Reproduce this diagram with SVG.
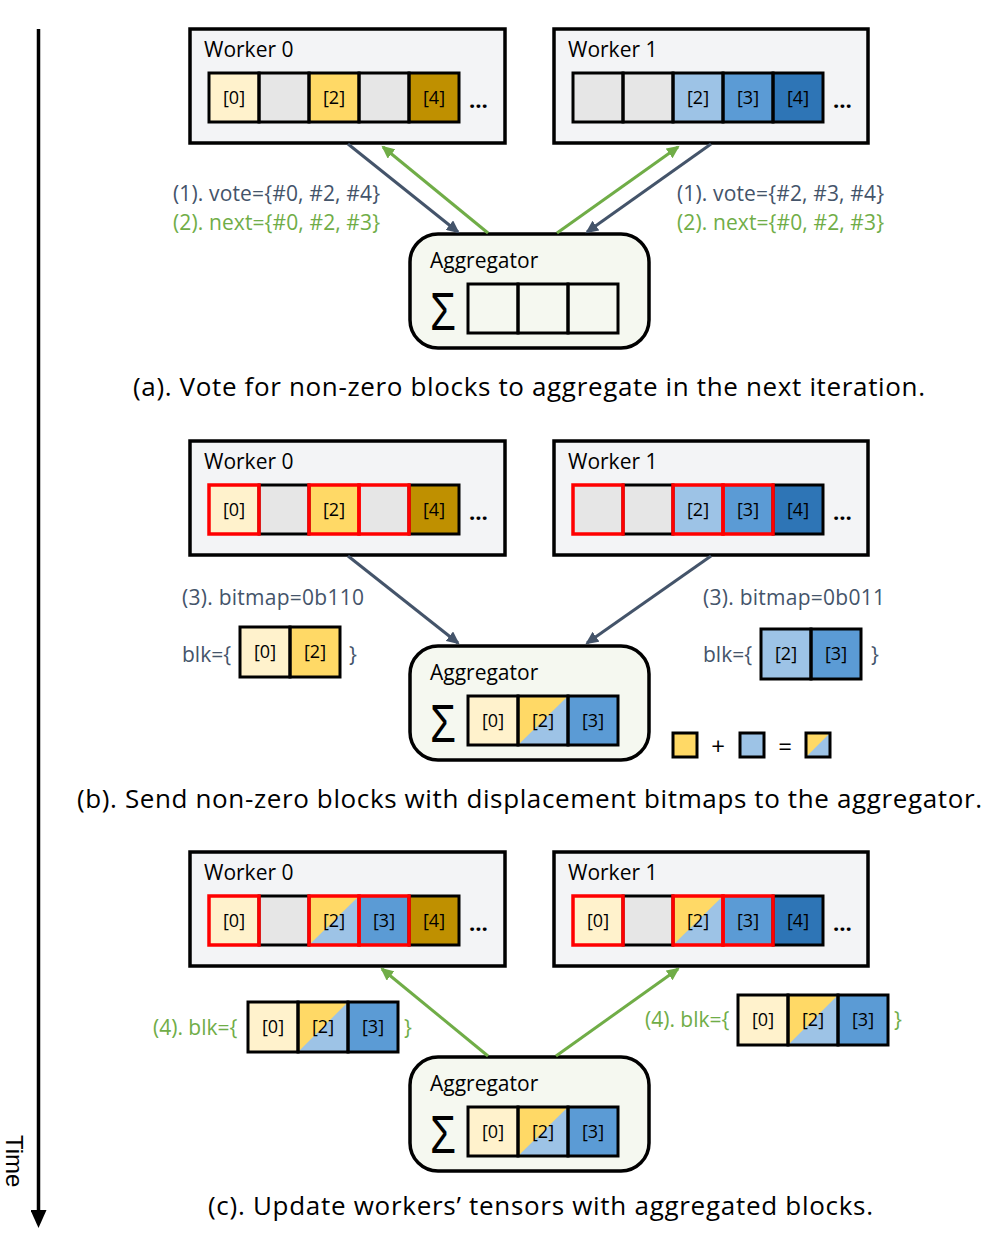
<svg xmlns="http://www.w3.org/2000/svg" width="988" height="1236" viewBox="0 0 988 1236">
<style>
text{font-family:"Open Sans","Noto Sans","Liberation Sans",sans-serif;fill:#000}
.wk{fill:#f3f4f6;stroke:#000;stroke-width:3.5}
.ag{fill:#f5f8f0;stroke:#000;stroke-width:3.5}
.o{fill:none;stroke:#000;stroke-width:3}
.r{fill:none;stroke:#ff0000;stroke-width:3.5}
.cr{fill:#fff2cc}.gy{fill:#e6e6e6}.ye{fill:#ffd966}.go{fill:#bf9000}
.lb{fill:#9dc3e6}.mb{fill:#5b9bd5}.db{fill:#2e75b6}
.ttl{font-size:21px}
.bl{font-size:18px;text-anchor:middle}
.dots{font-size:22px;font-weight:bold}
.sig{font-size:54px;font-family:"Liberation Sans",sans-serif}
.dk{fill:#44546a;font-size:21px}
.gr{fill:#70ad47;font-size:21px}
.cap{font-size:26px}
.ld{stroke:#44546a;stroke-width:3;fill:none}
.lg{stroke:#70ad47;stroke-width:3;fill:none}
</style>
<defs>
<marker id="ad" markerUnits="userSpaceOnUse" markerWidth="14" markerHeight="12" refX="11" refY="6" orient="auto"><path d="M0,0 L13,6 L0,12 z" fill="#44546a"/></marker>
<marker id="ag" markerUnits="userSpaceOnUse" markerWidth="14" markerHeight="12" refX="11" refY="6" orient="auto"><path d="M0,0 L13,6 L0,12 z" fill="#70ad47"/></marker>
<marker id="at" markerUnits="userSpaceOnUse" markerWidth="18" markerHeight="16" refX="2" refY="8" orient="auto"><path d="M0,0 L18,8 L0,16 z" fill="#000"/></marker>
</defs>

<!-- time axis -->
<g id="time">
<line x1="38.5" y1="29" x2="38.5" y2="1212" stroke="#000" stroke-width="3.5" marker-end="url(#at)"/>
<text transform="translate(6,1135) rotate(90)" style="font-size:24px;font-family:'Liberation Sans',Arial,sans-serif">Time</text>
</g>

<!-- ============ (a) ============ -->
<g id="a-worker0">
<rect class="wk" x="190" y="29" width="315" height="114"/>
<text class="ttl" x="204" y="57">Worker 0</text>
<rect class="cr" x="209" y="73" width="50" height="49"/>
<rect class="gy" x="259" y="73" width="50" height="49"/>
<rect class="ye" x="309" y="73" width="50" height="49"/>
<rect class="gy" x="359" y="73" width="50" height="49"/>
<rect class="go" x="409" y="73" width="50" height="49"/>
<rect class="o" x="209" y="73" width="50" height="49"/><rect class="o" x="259" y="73" width="50" height="49"/><rect class="o" x="309" y="73" width="50" height="49"/><rect class="o" x="359" y="73" width="50" height="49"/><rect class="o" x="409" y="73" width="50" height="49"/>
<text class="bl" x="234" y="104">[0]</text><text class="bl" x="334" y="104">[2]</text><text class="bl" x="434" y="104">[4]</text>
<text class="dots" x="469" y="108">…</text>
</g>
<g id="a-worker1">
<rect class="wk" x="554" y="29" width="314" height="114"/>
<text class="ttl" x="568" y="57">Worker 1</text>
<rect class="gy" x="573" y="73" width="50" height="49"/>
<rect class="gy" x="623" y="73" width="50" height="49"/>
<rect class="lb" x="673" y="73" width="50" height="49"/>
<rect class="mb" x="723" y="73" width="50" height="49"/>
<rect class="db" x="773" y="73" width="50" height="49"/>
<rect class="o" x="573" y="73" width="50" height="49"/><rect class="o" x="623" y="73" width="50" height="49"/><rect class="o" x="673" y="73" width="50" height="49"/><rect class="o" x="723" y="73" width="50" height="49"/><rect class="o" x="773" y="73" width="50" height="49"/>
<text class="bl" x="698" y="104">[2]</text><text class="bl" x="748" y="104">[3]</text><text class="bl" x="798" y="104">[4]</text>
<text class="dots" x="833" y="108">…</text>
</g>
<g id="a-aggregator">
<rect class="ag" x="410" y="234" width="239" height="114" rx="28"/>
<text class="ttl" x="430" y="268">Aggregator</text>
<text class="sig" x="430" y="330" textLength="26" lengthAdjust="spacingAndGlyphs">Σ</text>
<rect class="o" x="468" y="284" width="50" height="49"/><rect class="o" x="518" y="284" width="50" height="49"/><rect class="o" x="568" y="284" width="50" height="49"/>
</g>
<g id="a-labels">
<text class="dk" x="173" y="201" textLength="207">(1). vote={#0, #2, #4}</text>
<text class="gr" x="173" y="230" textLength="207">(2). next={#0, #2, #3}</text>
<text class="dk" x="677" y="201" textLength="207">(1). vote={#2, #3, #4}</text>
<text class="gr" x="677" y="230" textLength="207">(2). next={#0, #2, #3}</text>
<text class="cap" x="133" y="396" textLength="792">(a). Vote for non-zero blocks to aggregate in the next iteration.</text>
</g>

<!-- ============ (b) ============ -->
<g id="b-worker0">
<rect class="wk" x="190" y="441" width="315" height="114"/>
<text class="ttl" x="204" y="469">Worker 0</text>
<rect class="cr" x="209" y="485" width="50" height="49"/>
<rect class="gy" x="259" y="485" width="50" height="49"/>
<rect class="ye" x="309" y="485" width="50" height="49"/>
<rect class="gy" x="359" y="485" width="50" height="49"/>
<rect class="go" x="409" y="485" width="50" height="49"/>
<rect class="o" x="259" y="485" width="50" height="49"/><rect class="o" x="409" y="485" width="50" height="49"/>
<rect class="r" x="209" y="485" width="50" height="49"/><rect class="r" x="309" y="485" width="50" height="49"/><rect class="r" x="359" y="485" width="50" height="49"/>
<text class="bl" x="234" y="516">[0]</text><text class="bl" x="334" y="516">[2]</text><text class="bl" x="434" y="516">[4]</text>
<text class="dots" x="469" y="520">…</text>
</g>
<g id="b-worker1">
<rect class="wk" x="554" y="441" width="314" height="114"/>
<text class="ttl" x="568" y="469">Worker 1</text>
<rect class="gy" x="573" y="485" width="50" height="49"/>
<rect class="gy" x="623" y="485" width="50" height="49"/>
<rect class="lb" x="673" y="485" width="50" height="49"/>
<rect class="mb" x="723" y="485" width="50" height="49"/>
<rect class="db" x="773" y="485" width="50" height="49"/>
<rect class="o" x="623" y="485" width="50" height="49"/><rect class="o" x="773" y="485" width="50" height="49"/>
<rect class="r" x="573" y="485" width="50" height="49"/><rect class="r" x="673" y="485" width="50" height="49"/><rect class="r" x="723" y="485" width="50" height="49"/>
<text class="bl" x="698" y="516">[2]</text><text class="bl" x="748" y="516">[3]</text><text class="bl" x="798" y="516">[4]</text>
<text class="dots" x="833" y="520">…</text>
</g>
<g id="b-aggregator">
<rect class="ag" x="410" y="646" width="239" height="114" rx="28"/>
<text class="ttl" x="430" y="680">Aggregator</text>
<text class="sig" x="430" y="742" textLength="26" lengthAdjust="spacingAndGlyphs">Σ</text>
<rect class="cr" x="468" y="696" width="50" height="49"/>
<rect class="ye" x="518" y="696" width="50" height="49"/><polygon class="lb" points="568,696 568,745 518,745"/>
<rect class="mb" x="568" y="696" width="50" height="49"/>
<rect class="o" x="468" y="696" width="50" height="49"/><rect class="o" x="518" y="696" width="50" height="49"/><rect class="o" x="568" y="696" width="50" height="49"/>
<text class="bl" x="493" y="727">[0]</text><text class="bl" x="543" y="727">[2]</text><text class="bl" x="593" y="727">[3]</text>
</g>
<g id="b-blk0">
<text class="dk" x="182" y="605" textLength="182">(3). bitmap=0b110</text>
<text class="dk" x="182" y="662">blk={</text>
<rect class="cr" x="240" y="627" width="50" height="50"/>
<rect class="ye" x="290" y="627" width="50" height="50"/>
<rect class="o" x="240" y="627" width="50" height="50"/><rect class="o" x="290" y="627" width="50" height="50"/>
<text class="bl" x="265" y="658">[0]</text><text class="bl" x="315" y="658">[2]</text>
<text class="dk" x="349" y="662">}</text>
</g>
<g id="b-blk1">
<text class="dk" x="703" y="605" textLength="182">(3). bitmap=0b011</text>
<text class="dk" x="703" y="662">blk={</text>
<rect class="lb" x="761" y="629" width="50" height="50"/>
<rect class="mb" x="811" y="629" width="50" height="50"/>
<rect class="o" x="761" y="629" width="50" height="50"/><rect class="o" x="811" y="629" width="50" height="50"/>
<text class="bl" x="786" y="660">[2]</text><text class="bl" x="836" y="660">[3]</text>
<text class="dk" x="871" y="662">}</text>
</g>
<g id="legend">
<rect class="ye" x="673" y="733" width="24" height="24"/><rect class="o" x="673" y="733" width="24" height="24"/>
<text x="718" y="755" style="font-size:24px;text-anchor:middle">+</text>
<rect class="lb" x="740" y="733" width="24" height="24"/><rect class="o" x="740" y="733" width="24" height="24"/>
<text x="785" y="755" style="font-size:24px;text-anchor:middle">=</text>
<rect class="ye" x="806" y="733" width="24" height="24"/><polygon class="lb" points="830,733 830,757 806,757"/><rect class="o" x="806" y="733" width="24" height="24"/>
</g>
<text class="cap" x="77" y="808" textLength="905">(b). Send non-zero blocks with displacement bitmaps to the aggregator.</text>

<!-- ============ (c) ============ -->
<g id="c-worker0">
<rect class="wk" x="190" y="852" width="315" height="114"/>
<text class="ttl" x="204" y="880">Worker 0</text>
<rect class="cr" x="209" y="896" width="50" height="49"/>
<rect class="gy" x="259" y="896" width="50" height="49"/>
<rect class="ye" x="309" y="896" width="50" height="49"/><polygon class="lb" points="359,896 359,945 309,945"/>
<rect class="mb" x="359" y="896" width="50" height="49"/>
<rect class="go" x="409" y="896" width="50" height="49"/>
<rect class="o" x="259" y="896" width="50" height="49"/><rect class="o" x="409" y="896" width="50" height="49"/>
<rect class="r" x="209" y="896" width="50" height="49"/><rect class="r" x="309" y="896" width="50" height="49"/><rect class="r" x="359" y="896" width="50" height="49"/>
<text class="bl" x="234" y="927">[0]</text><text class="bl" x="334" y="927">[2]</text><text class="bl" x="384" y="927">[3]</text><text class="bl" x="434" y="927">[4]</text>
<text class="dots" x="469" y="931">…</text>
</g>
<g id="c-worker1">
<rect class="wk" x="554" y="852" width="314" height="114"/>
<text class="ttl" x="568" y="880">Worker 1</text>
<rect class="cr" x="573" y="896" width="50" height="49"/>
<rect class="gy" x="623" y="896" width="50" height="49"/>
<rect class="ye" x="673" y="896" width="50" height="49"/><polygon class="lb" points="723,896 723,945 673,945"/>
<rect class="mb" x="723" y="896" width="50" height="49"/>
<rect class="db" x="773" y="896" width="50" height="49"/>
<rect class="o" x="623" y="896" width="50" height="49"/><rect class="o" x="773" y="896" width="50" height="49"/>
<rect class="r" x="573" y="896" width="50" height="49"/><rect class="r" x="673" y="896" width="50" height="49"/><rect class="r" x="723" y="896" width="50" height="49"/>
<text class="bl" x="598" y="927">[0]</text><text class="bl" x="698" y="927">[2]</text><text class="bl" x="748" y="927">[3]</text><text class="bl" x="798" y="927">[4]</text>
<text class="dots" x="833" y="931">…</text>
</g>
<g id="c-aggregator">
<rect class="ag" x="410" y="1057" width="239" height="114" rx="28"/>
<text class="ttl" x="430" y="1091">Aggregator</text>
<text class="sig" x="430" y="1153" textLength="26" lengthAdjust="spacingAndGlyphs">Σ</text>
<rect class="cr" x="468" y="1107" width="50" height="49"/>
<rect class="ye" x="518" y="1107" width="50" height="49"/><polygon class="lb" points="568,1107 568,1156 518,1156"/>
<rect class="mb" x="568" y="1107" width="50" height="49"/>
<rect class="o" x="468" y="1107" width="50" height="49"/><rect class="o" x="518" y="1107" width="50" height="49"/><rect class="o" x="568" y="1107" width="50" height="49"/>
<text class="bl" x="493" y="1138">[0]</text><text class="bl" x="543" y="1138">[2]</text><text class="bl" x="593" y="1138">[3]</text>
</g>
<g id="c-blk0">
<text class="gr" x="153" y="1035">(4). blk={</text>
<rect class="cr" x="248" y="1002" width="50" height="50"/>
<rect class="ye" x="298" y="1002" width="50" height="50"/><polygon class="lb" points="348,1002 348,1052 298,1052"/>
<rect class="mb" x="348" y="1002" width="50" height="50"/>
<rect class="o" x="248" y="1002" width="50" height="50"/><rect class="o" x="298" y="1002" width="50" height="50"/><rect class="o" x="348" y="1002" width="50" height="50"/>
<text class="bl" x="273" y="1033">[0]</text><text class="bl" x="323" y="1033">[2]</text><text class="bl" x="373" y="1033">[3]</text>
<text class="gr" x="404" y="1035">}</text>
</g>
<g id="c-blk1">
<text class="gr" x="645" y="1027">(4). blk={</text>
<rect class="cr" x="738" y="995" width="50" height="50"/>
<rect class="ye" x="788" y="995" width="50" height="50"/><polygon class="lb" points="838,995 838,1045 788,1045"/>
<rect class="mb" x="838" y="995" width="50" height="50"/>
<rect class="o" x="738" y="995" width="50" height="50"/><rect class="o" x="788" y="995" width="50" height="50"/><rect class="o" x="838" y="995" width="50" height="50"/>
<text class="bl" x="763" y="1026">[0]</text><text class="bl" x="813" y="1026">[2]</text><text class="bl" x="863" y="1026">[3]</text>
<text class="gr" x="894" y="1027">}</text>
</g>
<text class="cap" x="208" y="1215" textLength="665">(c). Update workers’ tensors with aggregated blocks.</text>

<!-- connectors -->
<g id="connectors">
<line class="ld" x1="348" y1="144" x2="458" y2="232" marker-end="url(#ad)"/>
<line class="lg" x1="488" y1="233" x2="383" y2="147" marker-end="url(#ag)"/>
<line class="ld" x1="711" y1="144" x2="587" y2="232" marker-end="url(#ad)"/>
<line class="lg" x1="557" y1="233" x2="678" y2="147" marker-end="url(#ag)"/>
<line class="ld" x1="348" y1="556" x2="458" y2="643" marker-end="url(#ad)"/>
<line class="ld" x1="711" y1="556" x2="587" y2="643" marker-end="url(#ad)"/>
<line class="lg" x1="488" y1="1056" x2="382" y2="969" marker-end="url(#ag)"/>
<line class="lg" x1="556" y1="1056" x2="678" y2="969" marker-end="url(#ag)"/>
</g>
</svg>
